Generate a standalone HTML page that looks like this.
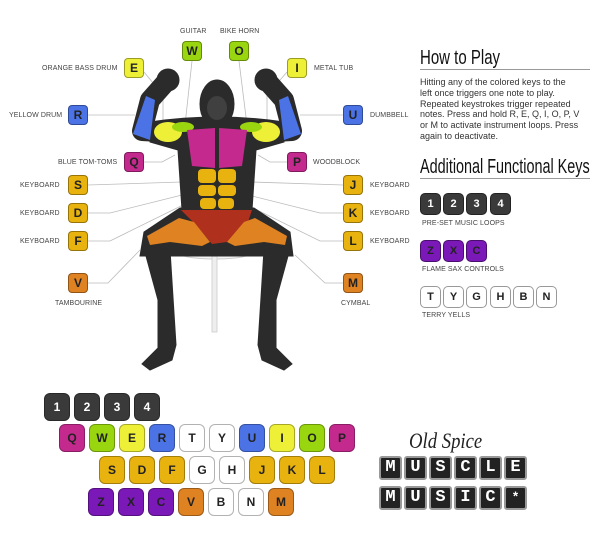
<!DOCTYPE html>
<html><head><meta charset="utf-8"><style>
body{margin:0;width:600px;height:547px;background:#fff;overflow:hidden;position:relative;font-family:"Liberation Sans",sans-serif}
.k{position:absolute;width:20px;height:20px;border-radius:4px;border:1px solid rgba(0,0,0,.35);box-sizing:border-box;font:bold 12px "Liberation Sans",sans-serif;text-align:center;line-height:18px;color:#222}
.b{position:absolute;width:26px;height:28px;border-radius:6px;border:1px solid rgba(0,0,0,.3);box-sizing:border-box;font:bold 12px "Liberation Sans",sans-serif;text-align:center;line-height:26px;color:#222}
.s{position:absolute;width:21px;height:22px;border-radius:5px;border:1px solid rgba(0,0,0,.4);box-sizing:border-box;font:bold 11px "Liberation Sans",sans-serif;text-align:center;line-height:20px;color:#222}
.l{position:absolute;font-size:7px;color:#444;white-space:nowrap;letter-spacing:.1px}
.h{position:absolute;left:420px;font-family:"Liberation Sans Narrow","Liberation Sans",sans-serif;transform-origin:left top;color:#111;white-space:nowrap}
.dk{background:#3a3a3a;color:#fff}
.pk{background:#c42a8e}.gr{background:#9ad60f}.yl{background:#eef038}.bl{background:#4b73e6}.wh{background:#fff}.og{background:#e8b30e}.pu{background:#7a18b8}.or{background:#de8222}
.t{position:absolute;width:23px;height:24px;background:#222;border:2px solid #999;box-sizing:border-box;border-radius:3px;color:#fff;font:bold 17px "Liberation Mono",monospace;text-align:center;line-height:20px}
</style></head><body>
<svg width="600" height="547" style="position:absolute;left:0;top:0">
<g stroke="#bbb" stroke-width="0.8" fill="none">
<path d="M192 61 L185 125"/><path d="M239 61 L247 125"/>
<path d="M144 72 L163 95 L163 120"/><path d="M287 72 L267 95 L267 120"/>
<path d="M88 115 L135 115"/><path d="M343 115 L300 115"/>
<path d="M144 162 L162 162 L175 155"/><path d="M287 162 L270 162 L258 155"/>
<path d="M88 185 L182 182"/><path d="M343 185 L252 182"/>
<path d="M88 213 L110 213 L182 195"/><path d="M343 213 L320 213 L248 195"/>
<path d="M88 241 L110 241 L183 205"/><path d="M343 241 L320 241 L247 205"/>
<path d="M88 283 L108 283 L140 250"/><path d="M343 283 L325 283 L295 255"/>
</g>
<!-- stool -->
<ellipse cx="215" cy="252" rx="38" ry="7" fill="#f4f4f4" stroke="#ccc"/>
<rect x="212" y="256" width="5" height="76" fill="#eee" stroke="#ccc" stroke-width=".8"/>
<!-- body -->
<g fill="#2b2b2b" stroke="#2b2b2b">
<polyline points="176,133 142,131 150,100 166,82" fill="none" stroke-width="20" stroke-linejoin="round" stroke-linecap="round"/>
<polyline points="258,133 292,131 284,100 268,82" fill="none" stroke-width="20" stroke-linejoin="round" stroke-linecap="round"/>
<circle cx="168" cy="80" r="11"/><circle cx="266" cy="80" r="11"/>
<path d="M150 122 Q217 112 284 122 L284 142 L256 150 L252 210 L182 210 L178 150 L150 142 Z"/>
<rect x="205" y="112" width="24" height="16"/>
<path d="M180 208 L254 208 L290 232 L293 256 L140 256 L144 232 Z"/>
<path d="M143 245 L170 250 L176 345 L172 360 L150 370 L142 364 L158 348 L158 300 Z"/>
<path d="M291 245 L264 250 L258 345 L262 360 L284 370 L292 364 L276 348 L276 300 Z"/>
<ellipse cx="217" cy="104" rx="17" ry="24"/>
</g>
<ellipse cx="217" cy="108" rx="10" ry="12" fill="#555" opacity=".5"/>
<path d="M133 134 L146 96 L155 100 L150 140 Z" fill="#4b73e6"/>
<path d="M301 134 L288 96 L279 100 L284 140 Z" fill="#4b73e6"/>
<ellipse cx="168" cy="132" rx="14" ry="10" fill="#eef038"/>
<ellipse cx="266" cy="132" rx="14" ry="10" fill="#eef038"/>
<ellipse cx="183" cy="127" rx="11" ry="5" fill="#9ad60f"/>
<ellipse cx="251" cy="127" rx="11" ry="5" fill="#9ad60f"/>
<path d="M187 130 L215 128 L215 168 L192 166 Z" fill="#c42a8e"/>
<path d="M219 128 L247 130 L242 166 L219 168 Z" fill="#c42a8e"/>
<g fill="#e8b30e">
<rect x="198" y="169" width="18" height="14" rx="4"/><rect x="218" y="169" width="18" height="14" rx="4"/>
<rect x="198" y="185" width="18" height="11" rx="4"/><rect x="218" y="185" width="18" height="11" rx="4"/>
<rect x="200" y="198" width="16" height="11" rx="4"/><rect x="218" y="198" width="16" height="11" rx="4"/>
</g>
<path d="M181 210 L252 210 L248 222 L227 242 L212 244 L196 225 Z" fill="#b0301e"/>
<path d="M147 236 L179 218 L194 222 L210 242 L202 246 L170 242 L150 245 Z" fill="#de8222"/>
<path d="M287 236 L255 218 L244 222 L227 242 L235 246 L264 242 L285 245 Z" fill="#de8222"/>
</svg>
<div class="l" style="left:180px;top:28px">GUITAR</div>
<div class="l" style="left:220px;top:28px">BIKE HORN</div>
<div class="l" style="left:42px;top:65px">ORANGE BASS DRUM</div>
<div class="l" style="left:314px;top:65px">METAL TUB</div>
<div class="l" style="left:9px;top:112px">YELLOW DRUM</div>
<div class="l" style="left:370px;top:112px">DUMBBELL</div>
<div class="l" style="left:58px;top:159px">BLUE TOM-TOMS</div>
<div class="l" style="left:313px;top:159px">WOODBLOCK</div>
<div class="l" style="left:20px;top:182px">KEYBOARD</div><div class="l" style="left:370px;top:182px">KEYBOARD</div>
<div class="l" style="left:20px;top:210px">KEYBOARD</div><div class="l" style="left:370px;top:210px">KEYBOARD</div>
<div class="l" style="left:20px;top:238px">KEYBOARD</div><div class="l" style="left:370px;top:238px">KEYBOARD</div>
<div class="l" style="left:55px;top:300px">TAMBOURINE</div>
<div class="l" style="left:341px;top:300px">CYMBAL</div>
<div class="k gr" style="left:182px;top:41px">W</div>
<div class="k gr" style="left:229px;top:41px">O</div>
<div class="k yl" style="left:124px;top:58px">E</div>
<div class="k yl" style="left:287px;top:58px">I</div>
<div class="k bl" style="left:68px;top:105px">R</div>
<div class="k bl" style="left:343px;top:105px">U</div>
<div class="k pk" style="left:124px;top:152px">Q</div>
<div class="k pk" style="left:287px;top:152px">P</div>
<div class="k og" style="left:68px;top:175px">S</div><div class="k og" style="left:343px;top:175px">J</div>
<div class="k og" style="left:68px;top:203px">D</div><div class="k og" style="left:343px;top:203px">K</div>
<div class="k og" style="left:68px;top:231px">F</div><div class="k og" style="left:343px;top:231px">L</div>
<div class="k or" style="left:68px;top:273px">V</div><div class="k or" style="left:343px;top:273px">M</div>

<div class="h" style="top:47px;font-size:20px;transform:scaleX(.75)">How to Play</div>
<div style="position:absolute;left:420px;top:69px;width:170px;height:1px;background:#999"></div>
<div style="position:absolute;left:420px;top:77px;width:180px;font-size:9px;line-height:10.8px;color:#333;white-space:nowrap">Hitting any of the colored keys to the<br>left once triggers one note to play.<br>Repeated keystrokes trigger repeated<br>notes. Press and hold R, E, Q, I, O, P, V<br>or M to activate instrument loops. Press<br>again to deactivate.</div>
<div class="h" style="top:156px;font-size:20px;transform:scaleX(.72)">Additional Functional Keys</div>
<div style="position:absolute;left:420px;top:178px;width:170px;height:1px;background:#999"></div>
<div class="s dk" style="left:420px;top:193px">1</div><div class="s dk" style="left:443px;top:193px">2</div><div class="s dk" style="left:466px;top:193px">3</div><div class="s dk" style="left:490px;top:193px">4</div>
<div class="l" style="left:422px;top:220px">PRE-SET MUSIC LOOPS</div>
<div class="s pu" style="left:420px;top:240px">Z</div><div class="s pu" style="left:443px;top:240px">X</div><div class="s pu" style="left:466px;top:240px">C</div>
<div class="l" style="left:422px;top:266px">FLAME SAX CONTROLS</div>
<div class="s wh" style="left:420px;top:286px">T</div><div class="s wh" style="left:443px;top:286px">Y</div><div class="s wh" style="left:466px;top:286px">G</div><div class="s wh" style="left:490px;top:286px">H</div><div class="s wh" style="left:513px;top:286px">B</div><div class="s wh" style="left:536px;top:286px">N</div>
<div class="l" style="left:422px;top:312px">TERRY YELLS</div>

<div class="b dk" style="left:44px;top:393px">1</div><div class="b dk" style="left:74px;top:393px">2</div><div class="b dk" style="left:104px;top:393px">3</div><div class="b dk" style="left:134px;top:393px">4</div>
<div class="b pk" style="left:59px;top:424px">Q</div><div class="b gr" style="left:89px;top:424px">W</div><div class="b yl" style="left:119px;top:424px">E</div><div class="b bl" style="left:149px;top:424px">R</div><div class="b wh" style="left:179px;top:424px">T</div><div class="b wh" style="left:209px;top:424px">Y</div><div class="b bl" style="left:239px;top:424px">U</div><div class="b yl" style="left:269px;top:424px">I</div><div class="b gr" style="left:299px;top:424px">O</div><div class="b pk" style="left:329px;top:424px">P</div>
<div class="b og" style="left:99px;top:456px">S</div><div class="b og" style="left:129px;top:456px">D</div><div class="b og" style="left:159px;top:456px">F</div><div class="b wh" style="left:189px;top:456px">G</div><div class="b wh" style="left:219px;top:456px">H</div><div class="b og" style="left:249px;top:456px">J</div><div class="b og" style="left:279px;top:456px">K</div><div class="b og" style="left:309px;top:456px">L</div>
<div class="b pu" style="left:88px;top:488px">Z</div><div class="b pu" style="left:118px;top:488px">X</div><div class="b pu" style="left:148px;top:488px">C</div><div class="b or" style="left:178px;top:488px">V</div><div class="b wh" style="left:208px;top:488px">B</div><div class="b wh" style="left:238px;top:488px">N</div><div class="b or" style="left:268px;top:488px">M</div>

<div style="position:absolute;left:409px;top:428px;font:italic 22px 'Liberation Serif',serif;color:#222;transform:scaleX(.85);transform-origin:left top">Old Spice</div>
<div class="t" style="left:379px;top:456px">M</div><div class="t" style="left:404px;top:456px">U</div><div class="t" style="left:429px;top:456px">S</div><div class="t" style="left:454px;top:456px">C</div><div class="t" style="left:479px;top:456px">L</div><div class="t" style="left:504px;top:456px">E</div>
<div class="t" style="left:379px;top:486px">M</div><div class="t" style="left:404px;top:486px">U</div><div class="t" style="left:429px;top:486px">S</div><div class="t" style="left:454px;top:486px">I</div><div class="t" style="left:479px;top:486px">C</div><div class="t" style="left:504px;top:486px;font-size:13px">*</div>
</body></html>
